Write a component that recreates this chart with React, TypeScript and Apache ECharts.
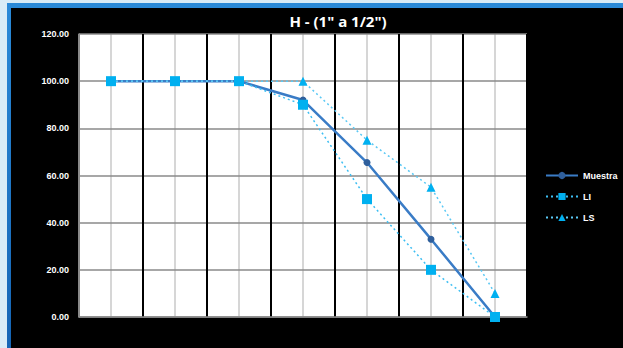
import React, { useEffect, useRef } from "react";
import * as echarts from "echarts";

const categories = ['1"', '3/4"', '1/2"', '3/8"', "N°4", "N°8", "N°16"];
const muestra = [100, 100, 100, 92, 65.5, 33, 0];
const li = [100, 100, 100, 90, 50, 20, 0];
const ls = [100, 100, 100, 100, 75, 55, 10];
const yTicks = { min: 0, max: 120, interval: 20 };
const titleText = 'H - (1" a 1/2")';

export default function App() {
  const ref = useRef<HTMLDivElement>(null);
  useEffect(() => {
    if (!ref.current) return;
    const chart = echarts.init(ref.current, undefined, { renderer: "svg" });
    const splitColors = categories.map(() => "#000");
    splitColors.unshift("#8a8a8a");
    splitColors[splitColors.length - 1] = "#000";
    splitColors.push("#8a8a8a");
    chart.setOption({
      animation: false,
      backgroundColor: "#000",
      title: {
        text: titleText,
        left: 327,
        top: 5,
        padding: 0,
        textAlign: "center",
        textStyle: {
          color: "#fff",
          fontSize: 15,
          fontWeight: "bold",
          fontFamily: "Open Sans",
        },
      },
      legend: {
        orient: "vertical",
        left: 529,
        top: 158,
        itemWidth: 32,
        itemHeight: 9,
        itemGap: 12,
        textStyle: {
          color: "#fff",
          fontSize: 9,
          fontWeight: "bold",
          fontFamily: "Liberation Sans",
        },
        data: ["Muestra", "LI", "LS"],
      },
      grid: {
        left: 68,
        top: 26,
        width: 448,
        height: 283,
        show: true,
        backgroundColor: "#fff",
        borderWidth: 0,
      },
      xAxis: [
        {
          type: "category",
          data: categories,
          boundaryGap: true,
          axisLine: { show: true, lineStyle: { color: "#8a8a8a", width: 1.5 } },
          axisTick: { show: false },
          axisLabel: { show: false },
          splitLine: { show: true, lineStyle: { color: splitColors, width: 2 } },
          z: 3,
        },
        {
          type: "value",
          min: 0,
          max: categories.length,
          interval: 1,
          position: "bottom",
          axisLine: { show: false },
          axisTick: { show: false },
          axisLabel: { show: false },
          splitLine: { show: false },
          minorTick: { show: false, splitNumber: 2 },
          minorSplitLine: { show: true, lineStyle: { color: "#c8c8c8", width: 1.5 } },
          z: 1,
        },
      ],
      yAxis: {
        type: "value",
        ...yTicks,
        axisLine: { show: true, lineStyle: { color: "#8a8a8a", width: 1.5 } },
        axisTick: { show: false },
        axisLabel: {
          color: "#fff",
          fontSize: 9,
          fontWeight: "bold",
          fontFamily: "Liberation Sans",
          margin: 10,
          formatter: (v: number) => v.toFixed(2),
        },
        splitLine: { show: true, lineStyle: { color: "#8a8a8a", width: 1.5 } },
        z: 2,
      },
      series: [
        {
          name: "Muestra",
          type: "line",
          data: muestra,
          symbol: "circle",
          symbolSize: 7,
          itemStyle: { color: "#2f5f9c" },
          lineStyle: { color: "#3a7cc6", width: 2.5, type: "solid" },
          z: 5,
        },
        {
          name: "LI",
          type: "line",
          data: li,
          symbol: "rect",
          symbolSize: 10,
          itemStyle: { color: "#00b0f0" },
          lineStyle: { color: "#3cbef2", width: 1.5, type: [2, 3] },
          z: 6,
        },
        {
          name: "LS",
          type: "line",
          data: ls,
          symbol: "triangle",
          symbolSize: 9,
          itemStyle: { color: "#00b0f0" },
          lineStyle: { color: "#5ac8f4", width: 1.5, type: [2, 3] },
          z: 6,
        },
      ],
    });
    return () => chart.dispose();
  }, []);
  return (
    <div
      style={{
        position: "fixed",
        left: 0,
        top: 0,
        width: 623,
        height: 348,
        background: "#d8ecf7",
        overflow: "hidden",
      }}
    >
      <div
        style={{
          position: "absolute",
          left: 7,
          top: 3,
          width: 616,
          height: 345,
          background: "linear-gradient(#2a8ad8, #1565b5)",
        }}
      >
        <div
          ref={ref}
          style={{ position: "absolute", left: 4, top: 5, width: 612, height: 340 }}
        />
      </div>
    </div>
  );
}
